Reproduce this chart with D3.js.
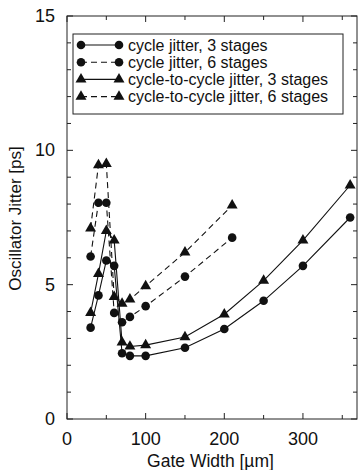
<!DOCTYPE html>
<html>
<head>
<meta charset="utf-8">
<script src="https://cdn.jsdelivr.net/npm/d3@7"></script>
<style>
  body { margin: 0; background: #fff; }
  text { font-family: "Liberation Sans", Arial, sans-serif; fill: #111; }
</style>
</head>
<body>
<div id="chart"></div>
<script>
// gate widths [um]
var widths3 = [30, 40, 50, 60, 70, 80, 100, 150, 200, 250, 300, 360];
var widths6 = [30, 40, 50, 60, 70, 80, 100, 150, 210];
// jitter [ps]
var cycle3 = [3.4, 4.6, 5.9, 5.7, 2.45, 2.35, 2.35, 2.65, 3.35, 4.4, 5.7, 7.5];
var cycle6 = [6.05, 8.05, 8.05, 3.95, 3.6, 3.8, 4.2, 5.3, 6.75];
var ctc3 = [3.95, 5.4, 7.0, 6.65, 2.85, 2.7, 2.75, 3.05, 3.9, 5.15, 6.65, 8.7];
var ctc6 = [7.1, 9.45, 9.5, 4.55, 4.3, 4.45, 4.95, 6.2, 7.95];
var xTicks = [0, 100, 200, 300];
var yTicks = [0, 5, 10, 15];
var labels = ["cycle jitter, 3 stages", "cycle jitter, 6 stages",
  "cycle-to-cycle jitter, 3 stages", "cycle-to-cycle jitter, 6 stages"];

var series = [
  { name: labels[0], x: widths3, y: cycle3, dash: null, mark: "circle" },
  { name: labels[1], x: widths6, y: cycle6, dash: "6,4", mark: "circle" },
  { name: labels[2], x: widths3, y: ctc3, dash: null, mark: "triangle" },
  { name: labels[3], x: widths6, y: ctc6, dash: "6,4", mark: "triangle" }
];

var W = 358, H = 470,
    margin = { top: 16, right: 0, bottom: 51, left: 67 },
    width = W - margin.left - margin.right,
    height = H - margin.top - margin.bottom;

var svg = d3.select("#chart").append("svg")
    .attr("width", W).attr("height", H);
var g = svg.append("g")
    .attr("transform", "translate(" + margin.left + "," + margin.top + ")");

var x = d3.scaleLinear().domain([0, 370]).range([0, width]);
var y = d3.scaleLinear().domain([0, 15]).range([height, 0]);

// frame
g.append("rect").attr("width", width - 1).attr("height", height)
    .attr("fill", "none").attr("stroke", "#222").attr("stroke-width", 1);

// inward ticks on all four sides
var minorX = d3.range(0, 371, 50), minorY = d3.range(0, 16, 1);
function tickLen(v, majors) { return majors.indexOf(v) >= 0 ? 6 : 4; }
minorX.forEach(function(v) {
  var l = tickLen(v, xTicks);
  g.append("line").attr("x1", x(v)).attr("x2", x(v)).attr("y1", height).attr("y2", height - l)
      .attr("stroke", "#222");
  g.append("line").attr("x1", x(v)).attr("x2", x(v)).attr("y1", 0).attr("y2", l)
      .attr("stroke", "#222");
});
minorY.forEach(function(v) {
  var l = tickLen(v, yTicks);
  g.append("line").attr("x1", 0).attr("x2", l).attr("y1", y(v)).attr("y2", y(v))
      .attr("stroke", "#222");
  g.append("line").attr("x1", width - 1).attr("x2", width - 1 - l).attr("y1", y(v)).attr("y2", y(v))
      .attr("stroke", "#222");
});

// tick labels
g.selectAll(".xl").data(xTicks).enter().append("text")
    .attr("x", function(d) { return x(d); }).attr("y", height + 26)
    .attr("text-anchor", "middle").style("font-size", "18px").text(function(d) { return d; });
g.selectAll(".yl").data(yTicks).enter().append("text")
    .attr("x", -12).attr("y", function(d) { return y(d) + 6; })
    .attr("text-anchor", "end").style("font-size", "18px").text(function(d) { return d; });

// axis titles
svg.append("text").attr("x", margin.left + width / 2 - 2).attr("y", 467)
    .attr("text-anchor", "middle").style("font-size", "17.5px").text("Gate Width [\u00b5m]");
svg.append("text").attr("transform", "translate(21," + (margin.top + height / 2 + 1) + ") rotate(-90)")
    .attr("text-anchor", "middle").style("font-size", "17px").text("Oscillator Jitter [ps]");

var tri = d3.symbol().type(d3.symbolTriangle).size(52);
function drawMark(sel, mark) {
  if (mark === "circle") {
    sel.append("circle").attr("r", 4.3).attr("fill", "#111");
  } else {
    sel.append("path").attr("d", tri).attr("fill", "#111");
  }
}

var line = d3.line().x(function(d) { return x(d[0]); }).y(function(d) { return y(d[1]); });

series.forEach(function(s) {
  var pts = s.x.map(function(v, i) { return [v, s.y[i]]; });
  g.append("path").datum(pts).attr("d", line)
      .attr("fill", "none").attr("stroke", "#111").attr("stroke-width", 1.1)
      .attr("stroke-dasharray", s.dash);
  pts.forEach(function(p) {
    var m = g.append("g").attr("transform", "translate(" + x(p[0]) + "," + y(p[1]) + ")");
    drawMark(m, s.mark);
  });
});

// legend
var lg = svg.append("g").attr("transform", "translate(73,34)");
lg.append("rect").attr("width", 270).attr("height", 80)
    .attr("fill", "#fff").attr("stroke", "#222").attr("stroke-width", 1);
series.forEach(function(s, i) {
  var yy = 11 + i * 17.2;
  lg.append("line").attr("x1", 8).attr("x2", 46).attr("y1", yy).attr("y2", yy)
      .attr("stroke", "#111").attr("stroke-width", 1.1).attr("stroke-dasharray", s.dash);
  [8, 46].forEach(function(xx) {
    drawMark(lg.append("g").attr("transform", "translate(" + xx + "," + yy + ")"), s.mark);
  });
  lg.append("text").attr("x", 55).attr("y", yy + 5.5).style("font-size", "16px").text(s.name);
});
</script>
</body>
</html>
